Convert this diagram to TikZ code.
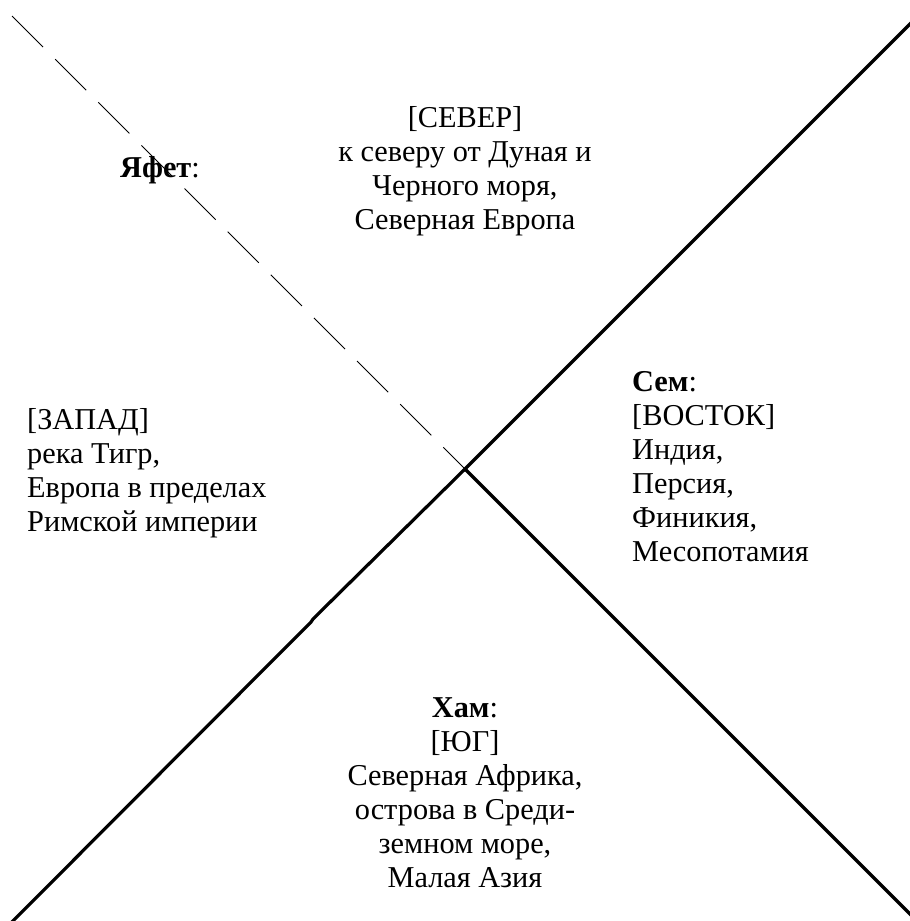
\documentclass[tikz,border=0pt]{standalone}
\usepackage{fontspec}
\setmainfont{Liberation Serif}
\begin{document}
\begin{tikzpicture}[x=1pt,y=-1pt,
  solidline/.style={line width=3.2pt,black},
  dashline/.style={line width=1pt,black,dash pattern=on 44pt off 17pt},
  blocktext/.style={inner sep=0pt,font=\fontsize{30.3}{34}\selectfont}]
\useasboundingbox (0,0) rectangle (910,921);
\coordinate (C) at (465,469);
\coordinate (NE) at (935,-1);
\coordinate (NW) at (12,16);
\coordinate (SE) at (935,939);
\coordinate (K1) at (313,619);
\coordinate (K2) at (311,622);
\coordinate (SW) at (-6,940);
\begin{scope}
\clip (0,0) rectangle (910,921);
\draw[solidline] (C) -- (NE);
\draw[solidline] (C) -- (SE);
\draw[solidline,line join=miter] (C) -- (K1) -- (K2) -- (SW);
\draw[dashline] (NW) -- (C);
\end{scope}
\node[blocktext,anchor=north,align=center] (north) at (465,106)
  {[СЕВЕР]\\к северу от Дуная и\\Черного моря,\\Северная Европа};
\node[blocktext,anchor=north west] (japheth) at (120,156) {\textbf{Яфет}:};
\node[blocktext,anchor=north west,align=left] (west) at (27,408)
  {[ЗАПАД]\\река Тигр,\\Европа в пределах\\Римской империи};
\node[blocktext,anchor=north west,align=left] (east) at (632,371)
  {\textbf{Сем}:\\[0pt][ВОСТОК]\\Индия,\\Персия,\\Финикия,\\Месопотамия};
\node[blocktext,anchor=north,align=center] (south) at (465,697)
  {\textbf{Хам}:\\[0pt][ЮГ]\\Северная Африка,\\острова в Среди-\\земном море,\\Малая Азия};
\end{tikzpicture}
\end{document}
